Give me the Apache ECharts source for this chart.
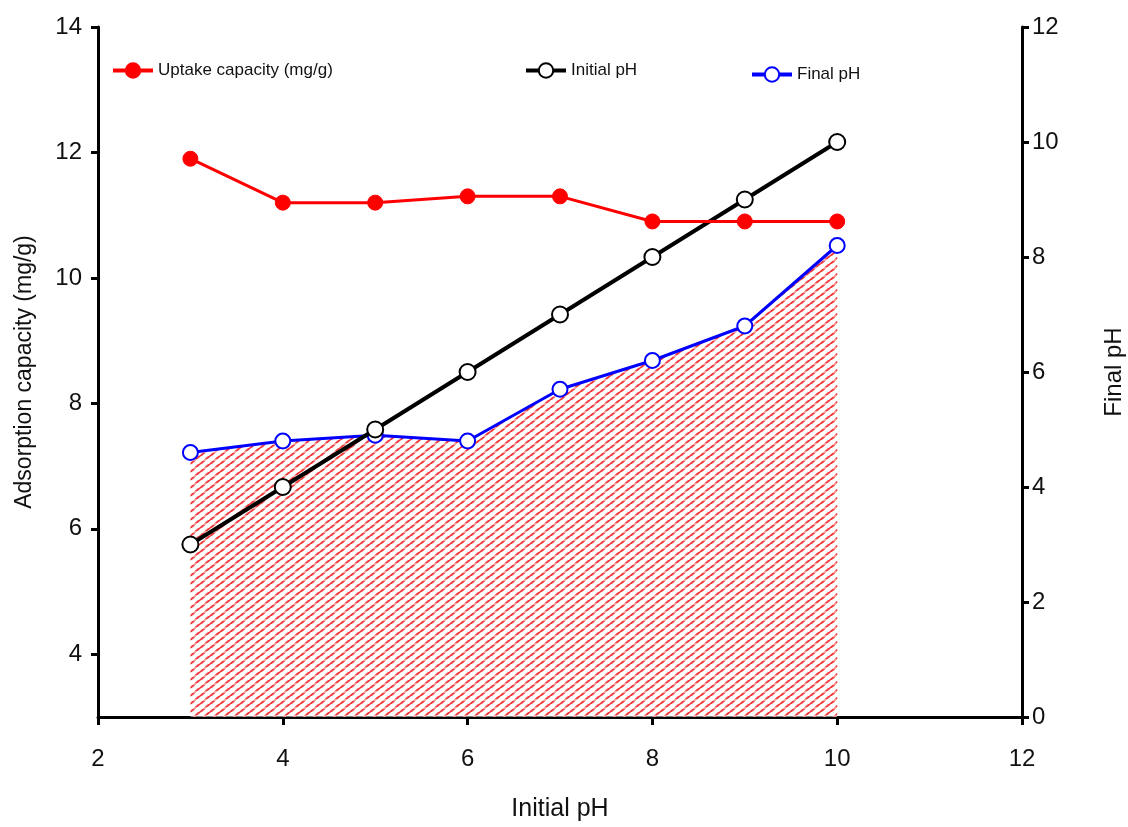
<!DOCTYPE html>
<html>
<head>
<meta charset="utf-8">
<script src="https://cdn.jsdelivr.net/npm/echarts@6/dist/echarts.min.js"></script>
<style>
  html, body { margin: 0; padding: 0; background: #fff; }
  #chart { width: 1128px; height: 827px; }
</style>
</head>
<body>
<div id="chart"></div>
<script>
// Initial pH of each test solution
const initialPH = [3, 4, 5, 6, 7, 8, 9, 10];
// Uptake capacity at each initial pH (mg/g), left axis
const uptakeCapacity = [11.9, 11.2, 11.2, 11.3, 11.3, 10.9, 10.9, 10.9];
// Final pH reached at each initial pH, right axis
const finalPH = [4.6, 4.8, 4.9, 4.8, 5.7, 6.2, 6.8, 8.2];
// Tick labels
const xTicks = [2, 4, 6, 8, 10, 12];
const leftTicks = [4, 6, 8, 10, 12, 14];

const pairs = (xs, ys) => xs.map((x, i) => [x, ys[i]]);

// Red brick-like hatch tile for the area under the final pH curve
function hatchPattern() {
  const c = document.createElement('canvas');
  c.width = 10; c.height = 8;
  const g = c.getContext('2d');
  g.strokeStyle = '#f03c3c';
  g.lineWidth = 2;
  for (let k = -1; k <= 1; k++) {
    g.beginPath();
    g.moveTo(-2 + k * 10, 10);
    g.lineTo(12 + k * 10, -2);
    g.stroke();
  }
  g.fillStyle = '#fff';
  g.fillRect(0, 3.5, 10, 1);
  return { image: c, repeat: 'repeat' };
}

const font = 'Liberation Sans, Arial, sans-serif';
const axisLineStyle = { color: '#000', width: 3 };
const legendBase = {
  itemWidth: 40, itemHeight: 18, itemGap: 10,
  lineStyle: { width: 4 },
  textStyle: { fontFamily: font, fontSize: 17, color: '#111' }
};

const chart = echarts.init(document.getElementById('chart'));
chart.setOption({
  animation: false,
  backgroundColor: '#fff',
  grid: { left: 98, right: 106, top: 27, bottom: 110, containLabel: false, outerBoundsMode: 'none' },
  legend: [
    Object.assign({ data: ['Uptake capacity (mg/g)'], left: 106, top: 57 }, legendBase),
    Object.assign({ data: ['Initial pH'], left: 519, top: 57 }, legendBase),
    Object.assign({ data: ['Final pH'], left: 745, top: 61 }, legendBase)
  ],
  xAxis: {
    type: 'value', min: 2, max: 12, interval: 2,
    name: 'Initial pH', nameLocation: 'middle', nameGap: 80,
    nameTextStyle: { fontFamily: font, fontSize: 25, color: '#111' },
    axisLine: { lineStyle: axisLineStyle },
    axisTick: { show: true, length: 8, lineStyle: { width: 3, color: '#000' } },
    axisLabel: { fontFamily: font, fontSize: 24, color: '#111', margin: 30,
      customValues: xTicks },
    splitLine: { show: false }
  },
  yAxis: [
    {
      type: 'value', min: 3, max: 14, position: 'left',
      name: 'Adsorption capacity (mg/g)', nameLocation: 'middle', nameGap: 62,
      nameTextStyle: { fontFamily: font, fontSize: 23, color: '#111' },
      axisLine: { show: true, lineStyle: axisLineStyle },
      axisTick: { show: true, length: 7, lineStyle: { width: 3, color: '#000' }, customValues: leftTicks },
      axisLabel: { fontFamily: font, fontSize: 24, color: '#111', margin: 16, customValues: leftTicks },
      splitLine: { show: false }
    },
    {
      type: 'value', min: 0, max: 12, interval: 2, position: 'right',
      name: 'Final pH', nameLocation: 'middle', nameGap: 80, nameRotate: 90,
      nameTextStyle: { fontFamily: font, fontSize: 24, color: '#111' },
      axisLine: { show: true, lineStyle: axisLineStyle },
      axisTick: { show: true, length: 7, lineStyle: { width: 3, color: '#000' } },
      axisLabel: { fontFamily: font, fontSize: 24, color: '#111', margin: 10 },
      splitLine: { show: false }
    }
  ],
  series: [
    {
      name: 'Final pH', type: 'line', yAxisIndex: 1, z: 2,
      data: pairs(initialPH, finalPH),
      symbol: 'circle', symbolSize: 15,
      lineStyle: { color: '#0000ff', width: 3 },
      itemStyle: { color: '#fff', borderColor: '#0000ff', borderWidth: 2 },
      areaStyle: { color: hatchPattern(), opacity: 1, origin: 'start' }
    },
    {
      name: 'Initial pH', type: 'line', yAxisIndex: 1, z: 3,
      data: pairs(initialPH, initialPH),
      symbol: 'circle', symbolSize: 16,
      lineStyle: { color: '#000', width: 4 },
      itemStyle: { color: '#fff', borderColor: '#000', borderWidth: 2 }
    },
    {
      name: 'Uptake capacity (mg/g)', type: 'line', yAxisIndex: 0, z: 4,
      data: pairs(initialPH, uptakeCapacity),
      symbol: 'circle', symbolSize: 15,
      lineStyle: { color: '#ff0000', width: 3 },
      itemStyle: { color: '#ff0000', borderColor: '#ff0000', borderWidth: 1 }
    }
  ]
});
</script>
</body>
</html>
